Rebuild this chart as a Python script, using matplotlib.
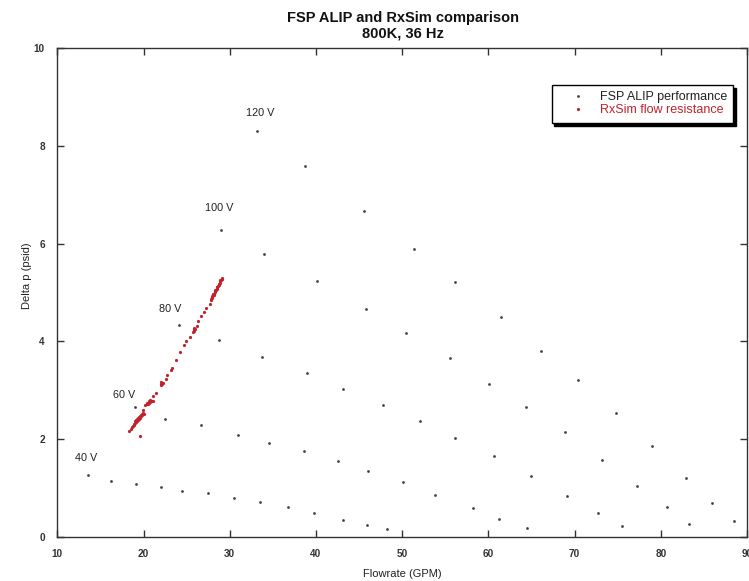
import matplotlib
matplotlib.use("Agg")
import matplotlib.pyplot as plt
from matplotlib.lines import Line2D

plt.rcParams['font.family'] = ['Liberation Sans', 'DejaVu Sans']

# ---- FSP ALIP performance (flow GPM, delta p psid) per voltage ----
flow_40 = [13.61, 16.25, 19.08, 21.99, 24.48, 27.46, 30.54, 33.56, 36.74, 39.77, 43.11, 45.90, 48.27]
dp_40 = [1.26, 1.15, 1.08, 1.01, 0.94, 0.89, 0.79, 0.72, 0.60, 0.48, 0.35, 0.24, 0.15]

flow_60 = [19.07, 22.48, 26.65, 31.00, 34.53, 38.64, 42.53, 46.02, 50.05, 53.80, 58.25, 61.27, 64.51]
dp_60 = [2.66, 2.41, 2.28, 2.09, 1.92, 1.75, 1.55, 1.35, 1.12, 0.85, 0.59, 0.37, 0.18]

flow_80 = [24.17, 28.74, 33.80, 38.92, 43.18, 47.80, 52.11, 56.18, 60.64, 64.97, 69.15, 72.67, 75.48]
dp_80 = [4.34, 4.03, 3.69, 3.35, 3.03, 2.69, 2.36, 2.03, 1.65, 1.24, 0.84, 0.49, 0.22]

flow_100 = [28.98, 33.97, 40.09, 45.86, 50.44, 55.56, 60.05, 64.42, 68.87, 73.18, 77.24, 80.68, 83.29]
dp_100 = [6.29, 5.79, 5.23, 4.67, 4.18, 3.66, 3.12, 2.66, 2.14, 1.58, 1.03, 0.60, 0.27]

flow_120 = [33.21, 38.74, 45.55, 51.37, 56.18, 61.49, 66.15, 70.44, 74.78, 79.00, 82.90, 85.98, 88.45]
dp_120 = [8.30, 7.59, 6.66, 5.90, 5.22, 4.49, 3.81, 3.20, 2.53, 1.85, 1.21, 0.70, 0.32]

# Voltage labels and their anchor positions
volt_labels = ['40 V', '60 V', '80 V', '100 V', '120 V']
volt_label_x = [13.31, 17.80, 23.04, 28.82, 33.48]
volt_label_y = [1.62, 2.91, 4.67, 6.74, 8.68]

# ---- RxSim flow resistance ----
rx_flow = [18.35, 18.50, 18.66, 18.75, 18.85, 18.95, 19.05, 19.15, 19.25, 19.35,
           19.45, 19.55, 19.65, 19.75, 19.85, 19.95, 20.01,
           19.00, 19.10, 19.20, 19.30, 19.40, 19.50, 19.60, 19.70, 19.80, 19.90,
           19.63, 19.90,
           20.21, 20.35, 20.50, 20.65, 20.80, 20.95, 21.11, 20.40, 20.60, 20.80,
           21.11, 21.49,
           22.00, 22.05, 22.11, 22.17, 22.22, 22.08,
           22.62, 22.69, 23.24, 23.32, 23.78, 24.28, 24.67, 24.98, 25.37,
           25.75, 25.80, 25.83, 25.88, 25.92, 25.85,
           26.15, 26.34, 26.69, 27.00, 27.28, 27.66,
           27.78, 27.85, 27.92, 28.00, 28.07, 28.14, 28.21, 28.28, 28.35, 28.42,
           28.50, 28.57, 28.64, 28.71, 28.78, 28.85, 28.92, 29.00, 29.07, 29.14,
           27.90, 28.10, 28.30, 28.50, 28.70, 28.90, 29.05]
rx_dp = [2.17, 2.20, 2.25, 2.27, 2.29, 2.31, 2.33, 2.35, 2.37, 2.39,
         2.41, 2.43, 2.45, 2.47, 2.49, 2.51, 2.52,
         2.36, 2.38, 2.40, 2.42, 2.44, 2.46, 2.48, 2.50, 2.52, 2.54,
         2.06, 2.59,
         2.69, 2.71, 2.72, 2.74, 2.75, 2.77, 2.78, 2.74, 2.77, 2.79,
         2.88, 2.95,
         3.11, 3.12, 3.13, 3.14, 3.15, 3.16,
         3.22, 3.32, 3.41, 3.45, 3.61, 3.78, 3.92, 4.01, 4.09,
         4.20, 4.22, 4.23, 4.25, 4.26, 4.27,
         4.31, 4.41, 4.51, 4.60, 4.69, 4.77,
         4.84, 4.86, 4.89, 4.91, 4.94, 4.96, 4.98, 5.01, 5.03, 5.06,
         5.08, 5.11, 5.13, 5.15, 5.18, 5.20, 5.23, 5.25, 5.28, 5.30,
         4.93, 4.98, 5.06, 5.11, 5.18, 5.25, 5.27]

x_ticks = [10, 20, 30, 40, 50, 60, 70, 80, 90]
y_ticks = [0, 2, 4, 6, 8, 10]

fig = plt.figure(figsize=(7.49, 5.81), dpi=100)
ax = fig.add_axes([57.3 / 749, 1 - 536.7 / 581, (747 - 57.3) / 749, (536.7 - 48.4) / 581])

dot_color = '#444444'
red = '#c4222a'
for fx, dy in [(flow_40, dp_40), (flow_60, dp_60), (flow_80, dp_80),
               (flow_100, dp_100), (flow_120, dp_120)]:
    ax.plot(fx, dy, linestyle='none', marker='o', markersize=2.0,
            color=dot_color, markeredgewidth=0)

ax.plot(rx_flow, rx_dp, linestyle='none', marker='o', markersize=2.3,
        color=red, markeredgewidth=0)

for lab, lx, ly in zip(volt_labels, volt_label_x, volt_label_y):
    ax.text(lx, ly, lab, ha='center', va='center', fontsize=7.8, color='#222222')

ax.set_xlim(10, 90)
ax.set_ylim(0, 10)
ax.set_xticks(x_ticks)
ax.set_yticks(y_ticks)
ax.tick_params(direction='in', length=5, width=1, top=True, right=True,
               labelsize=7.2, colors='#333333', pad=9)
for lbl in ax.get_xticklabels() + ax.get_yticklabels():
    lbl.set_fontweight('bold')
for sp in ax.spines.values():
    sp.set_color('#333333')
    sp.set_linewidth(1.0)

ax.set_xlabel('Flowrate (GPM)', fontsize=8, color='#222222', labelpad=7)
ax.set_ylabel('Delta p (psid)', fontsize=8, color='#222222', labelpad=10)
ax.yaxis.set_label_coords(-0.037, 0.535)

fig.text(403 / 749, 1 - 18 / 581, 'FSP ALIP and RxSim comparison', ha='center', va='center',
         fontsize=10.5, fontweight='bold', color='#111111')
fig.text(403 / 749, 1 - 33 / 581, '800K, 36 Hz', ha='center', va='center',
         fontsize=10.5, fontweight='bold', color='#111111')

handles = [Line2D([], [], linestyle='none', marker='o', markersize=2.0, color=dot_color, markeredgewidth=0),
           Line2D([], [], linestyle='none', marker='o', markersize=2.3, color=red, markeredgewidth=0)]
leg = ax.legend(handles, ['FSP ALIP performance', 'RxSim flow resistance'],
                loc='upper left', bbox_to_anchor=((551.7 - 57.3) / 689.7, (536.7 - 85) / 488.3),
                borderaxespad=0, fontsize=9, frameon=True, fancybox=False,
                edgecolor='black', framealpha=1, borderpad=0.5, handlelength=3.2,
                handletextpad=0.16, labelspacing=0.1,
                shadow={'color': 'black', 'alpha': 1.0, 'ox': 2, 'oy': -2})
leg.get_frame().set_linewidth(1.0)
leg.get_texts()[0].set_color('#222222')
leg.get_texts()[1].set_color(red)

fig.savefig('out.png', dpi=100)
